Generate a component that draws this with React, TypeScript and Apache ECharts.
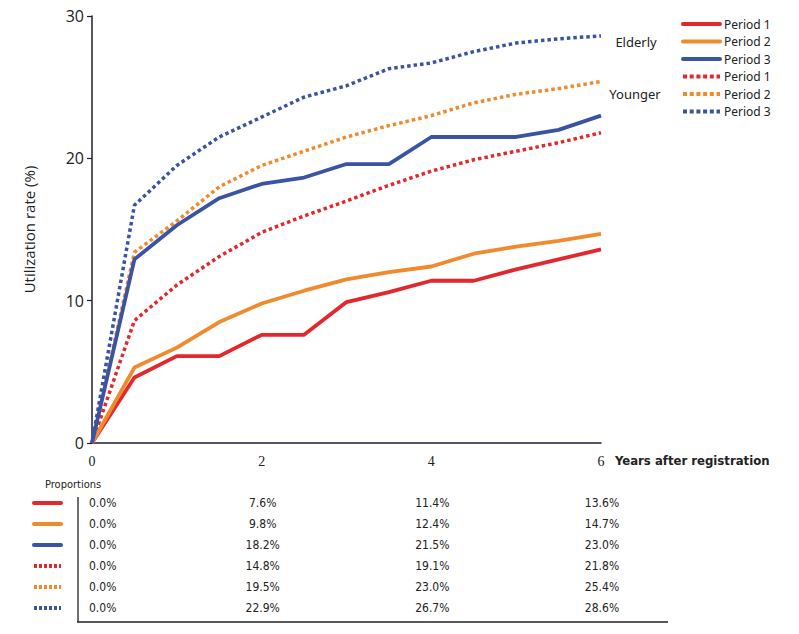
import React, { useEffect, useRef } from "react";
import * as echarts from "echarts";

const years = [0, 0.5, 1, 1.5, 2, 2.5, 3, 3.5, 4, 4.5, 5, 5.5, 6];
const elderlyP1 = [0, 4.6, 6.1, 6.1, 7.6, 7.6, 9.9, 10.6, 11.4, 11.4, 12.2, 12.9, 13.6];
const elderlyP2 = [0, 5.3, 6.7, 8.5, 9.8, 10.7, 11.5, 12.0, 12.4, 13.3, 13.8, 14.2, 14.7];
const elderlyP3 = [0, 12.9, 15.3, 17.2, 18.2, 18.65, 19.6, 19.6, 21.5, 21.5, 21.5, 22.0, 23.0];
const youngerP1 = [0, 8.6, 11.1, 13.1, 14.8, 15.95, 17.0, 18.1, 19.1, 19.9, 20.5, 21.1, 21.8];
const youngerP2 = [0, 13.4, 15.6, 18.0, 19.5, 20.5, 21.5, 22.3, 23.0, 23.9, 24.5, 24.9, 25.4];
const youngerP3 = [0, 16.7, 19.5, 21.5, 22.9, 24.3, 25.1, 26.3, 26.7, 27.5, 28.1, 28.4, 28.6];
const periodNames = ["Period 1", "Period 2", "Period 3"];
const groupNames = ["Elderly", "Younger"];
const tableYears = [0, 2, 4, 6];

const RED = "#e2282c";
const ORANGE = "#ef8a2d";
const BLUE = "#3a53a2";
const AXIS = "#1e1e3a";
const TEXT = "#222222";
const NARROW = "'DejaVu Sans Condensed', 'Liberation Sans Narrow', Roboto, sans-serif";

export default function App() {
  const ref = useRef<HTMLDivElement>(null);
  useEffect(() => {
    document.body.style.margin = "0";
    const chart = echarts.init(ref.current!, null, { renderer: "svg" });
    const colors = [RED, ORANGE, BLUE];
    const defs = [
      { group: 0, p: 0, data: elderlyP1 },
      { group: 0, p: 1, data: elderlyP2 },
      { group: 0, p: 2, data: elderlyP3 },
      { group: 1, p: 0, data: youngerP1 },
      { group: 1, p: 1, data: youngerP2 },
      { group: 1, p: 2, data: youngerP3 },
    ];
    const option: any = {
      animation: false,
      grid: { left: 92, top: 16, width: 509, height: 427 },
      xAxis: {
        type: "value",
        min: 0,
        max: 6,
        interval: 2,
        axisLine: { lineStyle: { color: AXIS, width: 1.5 } },
        axisTick: { show: false },
        splitLine: { show: false },
        axisLabel: { fontFamily: "Liberation Serif", fontSize: 14, color: TEXT, margin: 11 },
        name: "Years after registration",
        nameLocation: "end",
        nameGap: 14,
        nameTextStyle: {
          fontFamily: NARROW,
          fontWeight: "bold",
          fontSize: 13,
          color: TEXT,
          verticalAlign: "top",
          align: "left",
          padding: [11, 0, 0, 0],
        },
      },
      yAxis: {
        type: "value",
        min: 0,
        max: 30,
        interval: 10,
        axisLine: { show: true, lineStyle: { color: AXIS, width: 1.5 } },
        axisTick: { show: true, length: 5, lineStyle: { color: AXIS, width: 1.2 } },
        splitLine: { show: false },
        axisLabel: { fontFamily: "Open Sans", fontSize: 16, color: TEXT, margin: 8 },
        name: "Utilization rate (%)",
        nameLocation: "middle",
        nameGap: 56,
        nameTextStyle: { fontFamily: "Open Sans", fontSize: 15, color: TEXT },
      },
      series: defs.map((d) => ({
        type: "line",
        name: groupNames[d.group] + " " + periodNames[d.p],
        data: years.map((x, i) => [x, d.data[i]]),
        symbol: "none",
        showSymbol: false,
        z: d.group === 1 ? 2 : 3,
        lineStyle: {
          color: colors[d.p],
          width: d.group === 1 ? 3.5 : 3.8,
          type: d.group === 1 ? [3.5, 3] : "solid",
          cap: "butt",
        },
        itemStyle: { color: colors[d.p] },
      })),
    };
    chart.setOption(option);

    const g: any[] = [];
    // legend
    defs.forEach((d, i) => {
      const y = 24 + i * 17.5;
      g.push({
        type: "line",
        shape: { x1: 683, y1: y, x2: 720, y2: y },
        style: {
          stroke: colors[d.p],
          lineWidth: 4,
          lineDash: d.group === 1 ? [4, 2.7] : null,
          lineCap: d.group === 1 ? "butt" : "round",
        },
      });
      g.push({
        type: "text",
        x: 724,
        y,
        style: { text: periodNames[d.p], fontFamily: "Noto Sans", fontSize: 12, fill: TEXT, verticalAlign: "middle", align: "left" },
      });
    });
    g.push({ type: "text", x: 636, y: 42, style: { text: groupNames[0], fontFamily: "Noto Sans", fontSize: 13, fill: TEXT, align: "center", verticalAlign: "middle" } });
    g.push({ type: "text", x: 635, y: 94, style: { text: groupNames[1], fontFamily: "Noto Sans", fontSize: 13, fill: TEXT, align: "center", verticalAlign: "middle" } });

    // table
    g.push({ type: "text", x: 45, y: 484, style: { text: "Proportions", fontFamily: NARROW, fontSize: 11, fill: TEXT, verticalAlign: "middle" } });
    g.push({ type: "line", shape: { x1: 78, y1: 497, x2: 78, y2: 622 }, style: { stroke: TEXT, lineWidth: 1.3 } });
    g.push({ type: "line", shape: { x1: 77, y1: 622, x2: 668, y2: 622 }, style: { stroke: TEXT, lineWidth: 1.3 } });
    defs.forEach((d, i) => {
      const y = 503 + i * 21;
      g.push({
        type: "line",
        shape: { x1: 34, y1: y, x2: 61, y2: y },
        style: {
          stroke: colors[d.p],
          lineWidth: 4,
          lineDash: d.group === 1 ? [3, 2] : null,
          lineCap: d.group === 1 ? "butt" : "round",
        },
      });
      tableYears.forEach((ty, j) => {
        const idx = years.indexOf(ty);
        const val = d.data[idx].toFixed(1) + "%";
        const px = chart.convertToPixel({ xAxisIndex: 0 }, ty) as number;
        g.push({
          type: "text",
          x: j === 0 ? 89 : px + 1,
          y,
          style: {
            text: val,
            fontFamily: NARROW,
            fontSize: 12,
            fill: TEXT,
            align: j === 0 ? "left" : "center",
            verticalAlign: "middle",
          },
        });
      });
    });
    chart.setOption({ graphic: g });
    return () => chart.dispose();
  }, []);
  return <div ref={ref} style={{ width: 799, height: 634 }} />;
}
